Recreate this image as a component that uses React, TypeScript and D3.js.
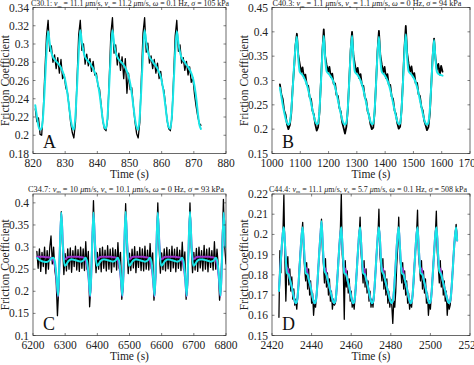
import React from 'react';
import * as d3 from 'd3';

const FONT = '"Liberation Serif", "Times New Roman", serif';
const AXIS = '#2b2b2b';
const CYAN = '#19e6e8';
const MAGENTA = '#9a30c8';
const BLACK = '#000000';

// ---- Panel A (C30.1) ----
const A_X_TICKS = [820, 830, 840, 850, 860, 870, 880];
const A_Y_TICKS = [0.18, 0.2, 0.22, 0.24, 0.26, 0.28, 0.3, 0.32, 0.34];
const A_TITLE = ['C30.1', '11.1', '11.2', '0.1', '105'];
const A_T0 = 820.7;
const A_DT = 0.5;
const A_BLACK = [
  0.229, 0.215, 0.219, 0.201, 0.200, 0.228, 0.270, 0.309,
  0.326, 0.292, 0.298, 0.280, 0.288, 0.273, 0.285, 0.268, 0.283, 0.262, 0.266, 0.252, 0.247, 0.232, 0.214, 0.203, 0.197, 0.214, 0.262, 0.310,
  0.326, 0.293, 0.300, 0.278, 0.289, 0.276, 0.284, 0.270, 0.281, 0.266, 0.268, 0.254, 0.250, 0.233, 0.216, 0.207, 0.205, 0.218, 0.262, 0.311,
  0.329, 0.290, 0.299, 0.277, 0.290, 0.271, 0.286, 0.262, 0.284, 0.246, 0.268, 0.250, 0.252, 0.232, 0.215, 0.202, 0.197, 0.214, 0.264, 0.312,
  0.329, 0.291, 0.301, 0.279, 0.287, 0.273, 0.283, 0.268, 0.279, 0.262, 0.270, 0.255, 0.249, 0.233, 0.216, 0.207, 0.205, 0.220, 0.263, 0.309,
  0.326, 0.292, 0.299, 0.279, 0.285, 0.271, 0.281, 0.266, 0.275, 0.258, 0.263, 0.245, 0.232, 0.221, 0.213, 0.211,
];
const A_CYAN = [
  0.233, 0.221, 0.210, 0.206, 0.208, 0.224, 0.256, 0.291,
  0.314, 0.301, 0.291, 0.286, 0.283, 0.281, 0.279, 0.277, 0.274, 0.270, 0.265, 0.257, 0.246, 0.232, 0.218, 0.209, 0.206, 0.222, 0.254, 0.290,
  0.315, 0.302, 0.292, 0.286, 0.283, 0.281, 0.279, 0.276, 0.273, 0.269, 0.264, 0.256, 0.245, 0.231, 0.217, 0.209, 0.207, 0.222, 0.255, 0.291,
  0.315, 0.301, 0.291, 0.286, 0.283, 0.281, 0.279, 0.277, 0.274, 0.270, 0.265, 0.257, 0.246, 0.232, 0.218, 0.209, 0.206, 0.221, 0.253, 0.290,
  0.315, 0.302, 0.292, 0.286, 0.283, 0.281, 0.278, 0.276, 0.273, 0.269, 0.264, 0.256, 0.245, 0.231, 0.217, 0.209, 0.207, 0.222, 0.255, 0.291,
  0.314, 0.301, 0.291, 0.285, 0.282, 0.280, 0.277, 0.275, 0.272, 0.268, 0.263, 0.254, 0.242, 0.226, 0.212, 0.207,
];

// ---- Panel B (C40.3) ----
const B_X_TICKS = [1000, 1100, 1200, 1300, 1400, 1500, 1600, 1700];
const B_Y_TICKS = [0.15, 0.2, 0.25, 0.3, 0.35, 0.4, 0.45];
const B_TITLE = ['C40.3', '1.1', '1.1', '0', '94'];
const B_T0 = 1028;
const B_DT = 5;
const B_BLACK = [
  0.292, 0.272, 0.262, 0.238, 0.230, 0.210, 0.200, 0.208, 0.232, 0.285, 0.325, 0.372, 0.396,
  0.352, 0.334, 0.317, 0.327, 0.306, 0.312, 0.291, 0.289, 0.266, 0.262, 0.238, 0.230, 0.210, 0.197, 0.204, 0.236, 0.298, 0.360, 0.405,
  0.350, 0.332, 0.318, 0.328, 0.307, 0.314, 0.293, 0.294, 0.270, 0.268, 0.244, 0.236, 0.214, 0.203, 0.191, 0.205, 0.240, 0.300, 0.362, 0.400,
  0.351, 0.333, 0.316, 0.326, 0.305, 0.313, 0.290, 0.289, 0.266, 0.260, 0.237, 0.229, 0.210, 0.200, 0.203, 0.236, 0.297, 0.360, 0.402,
  0.352, 0.333, 0.317, 0.328, 0.305, 0.313, 0.291, 0.291, 0.267, 0.262, 0.239, 0.231, 0.212, 0.201, 0.205, 0.240, 0.300, 0.364, 0.412,
  0.355, 0.334, 0.318, 0.329, 0.308, 0.315, 0.294, 0.295, 0.272, 0.268, 0.246, 0.238, 0.218, 0.208, 0.198, 0.204, 0.232, 0.290, 0.350, 0.386,
  0.345, 0.322, 0.334, 0.312, 0.330, 0.318,
];
const B_CYAN = [
  0.285, 0.268, 0.250, 0.235, 0.222, 0.213, 0.209, 0.214, 0.238, 0.280, 0.330, 0.368, 0.390,
  0.345, 0.318, 0.314, 0.311, 0.306, 0.300, 0.292, 0.281, 0.268, 0.254, 0.240, 0.227, 0.216, 0.210, 0.212, 0.240, 0.295, 0.355, 0.392,
  0.346, 0.319, 0.315, 0.312, 0.308, 0.303, 0.296, 0.286, 0.274, 0.260, 0.246, 0.232, 0.220, 0.212, 0.209, 0.214, 0.243, 0.298, 0.357, 0.392,
  0.345, 0.318, 0.314, 0.311, 0.306, 0.300, 0.292, 0.281, 0.268, 0.254, 0.240, 0.227, 0.216, 0.210, 0.212, 0.240, 0.295, 0.355, 0.390,
  0.345, 0.318, 0.314, 0.311, 0.306, 0.300, 0.292, 0.281, 0.268, 0.254, 0.240, 0.227, 0.216, 0.210, 0.212, 0.240, 0.295, 0.355, 0.395,
  0.346, 0.319, 0.315, 0.312, 0.308, 0.303, 0.296, 0.286, 0.274, 0.260, 0.246, 0.232, 0.220, 0.212, 0.209, 0.214, 0.240, 0.290, 0.345, 0.383,
  0.343, 0.318, 0.314, 0.312, 0.311, 0.310,
];

// ---- Panel C (C34.7) ----
const C_X_TICKS = [6200, 6300, 6400, 6500, 6600, 6700, 6800];
const C_Y_TICKS = [0.1, 0.15, 0.2, 0.25, 0.3, 0.35, 0.4];
const C_TITLE = ['C34.7', '10', '10.1', '0', '93'];
const C_BLACK_T0 = 6212;
const C_BLACK_DT = 4;
const C_BLACK = [
  0.290, 0.252, 0.296, 0.245, 0.288, 0.256, 0.300, 0.240, 0.292, 0.250, 0.298, 0.325, 0.262, 0.300, 0.248, 0.225, 0.145, 0.205, 0.300, 0.380,
  0.300, 0.238, 0.285, 0.246, 0.296, 0.250, 0.298, 0.243, 0.292, 0.256, 0.302, 0.248, 0.294, 0.245, 0.300, 0.252, 0.296, 0.247, 0.312, 0.250, 0.290, 0.165, 0.215, 0.300, 0.405,
  0.298, 0.242, 0.288, 0.250, 0.297, 0.244, 0.300, 0.252, 0.293, 0.246, 0.303, 0.250, 0.295, 0.243, 0.298, 0.255, 0.294, 0.248, 0.310, 0.252, 0.288, 0.182, 0.210, 0.298, 0.398,
  0.302, 0.240, 0.286, 0.247, 0.295, 0.253, 0.301, 0.242, 0.290, 0.254, 0.299, 0.247, 0.296, 0.246, 0.302, 0.250, 0.293, 0.248, 0.308, 0.251, 0.287, 0.180, 0.212, 0.300, 0.400,
  0.300, 0.241, 0.287, 0.249, 0.296, 0.246, 0.299, 0.251, 0.294, 0.245, 0.302, 0.253, 0.295, 0.244, 0.299, 0.252, 0.293, 0.247, 0.311, 0.250, 0.289, 0.182, 0.211, 0.299, 0.400,
  0.301, 0.242, 0.288, 0.248, 0.297, 0.245, 0.300, 0.253, 0.292, 0.246, 0.304, 0.250, 0.295, 0.244, 0.298, 0.254, 0.292, 0.248, 0.312, 0.250, 0.295, 0.258, 0.180, 0.212, 0.300, 0.408,
  0.300, 0.262,
];
const C_FIT_T0 = 6213;
const C_FIT_DT = 5;
const C_CYAN = [
  0.275, 0.272, 0.270, 0.268, 0.267, 0.266, 0.266, 0.268, 0.271, 0.275, 0.276, 0.268, 0.235, 0.190, 0.285, 0.378,
  0.300, 0.258, 0.260, 0.266, 0.270, 0.272, 0.272, 0.271, 0.270, 0.269, 0.268, 0.267, 0.268, 0.271, 0.276, 0.268, 0.235, 0.190, 0.285, 0.378,
  0.300, 0.258, 0.260, 0.266, 0.270, 0.272, 0.272, 0.271, 0.270, 0.269, 0.268, 0.267, 0.268, 0.271, 0.276, 0.268, 0.235, 0.190, 0.285, 0.380,
  0.300, 0.258, 0.260, 0.266, 0.270, 0.272, 0.272, 0.271, 0.270, 0.269, 0.268, 0.267, 0.268, 0.271, 0.276, 0.268, 0.235, 0.190, 0.285, 0.378,
  0.300, 0.258, 0.260, 0.266, 0.270, 0.272, 0.272, 0.271, 0.270, 0.269, 0.268, 0.267, 0.268, 0.271, 0.276, 0.268, 0.235, 0.190, 0.285, 0.380,
  0.300, 0.258, 0.260, 0.266, 0.270, 0.272, 0.272, 0.272, 0.271, 0.270, 0.269, 0.268, 0.267, 0.268, 0.271, 0.276, 0.268, 0.235, 0.190, 0.285, 0.378,
  0.300,
];
const C_MAGENTA = [
  0.278, 0.278, 0.278, 0.278, 0.278, 0.277, 0.277, 0.277, 0.276, 0.274, 0.270, 0.258, 0.228, 0.188, 0.283, 0.376,
  0.305, 0.272, 0.274, 0.277, 0.278, 0.278, 0.278, 0.278, 0.278, 0.278, 0.278, 0.277, 0.277, 0.276, 0.270, 0.258, 0.228, 0.188, 0.283, 0.376,
  0.305, 0.272, 0.274, 0.277, 0.278, 0.278, 0.278, 0.278, 0.278, 0.278, 0.278, 0.277, 0.277, 0.276, 0.270, 0.258, 0.228, 0.188, 0.283, 0.376,
  0.305, 0.272, 0.274, 0.277, 0.278, 0.278, 0.278, 0.278, 0.278, 0.278, 0.278, 0.277, 0.277, 0.276, 0.270, 0.258, 0.228, 0.188, 0.283, 0.376,
  0.305, 0.272, 0.274, 0.277, 0.278, 0.278, 0.278, 0.278, 0.278, 0.278, 0.278, 0.277, 0.277, 0.276, 0.270, 0.258, 0.228, 0.188, 0.283, 0.376,
  0.305, 0.272, 0.274, 0.277, 0.278, 0.278, 0.278, 0.278, 0.278, 0.278, 0.278, 0.278, 0.277, 0.277, 0.276, 0.270, 0.258, 0.228, 0.188, 0.283, 0.376,
  0.305,
];

// ---- Panel D (C44.4) ----
const D_X_TICKS = [2420, 2440, 2460, 2480, 2500, 2520];
const D_Y_TICKS = [0.15, 0.16, 0.17, 0.18, 0.19, 0.2, 0.21, 0.22];
const D_TITLE = ['C44.4', '11.1', '5.7', '0.1', '508'];
const D_T0 = 2423.5;
const D_DT = 0.5;
const D_BLACK = [
  0.159, 0.192, 0.181, 0.196, 0.200, 0.2195,
  0.188, 0.167, 0.184, 0.189, 0.175, 0.183, 0.172, 0.179, 0.168, 0.173, 0.165, 0.168, 0.163, 0.170, 0.176, 0.187, 0.193, 0.199, 0.206,
  0.191, 0.183, 0.177, 0.186, 0.173, 0.183, 0.170, 0.177, 0.166, 0.171, 0.160, 0.167, 0.164, 0.170, 0.176, 0.185, 0.193, 0.200, 0.2075,
  0.192, 0.185, 0.176, 0.188, 0.174, 0.181, 0.170, 0.178, 0.167, 0.172, 0.163, 0.168, 0.165, 0.166, 0.171, 0.178, 0.187, 0.194, 0.201, 0.220,
  0.190, 0.183, 0.158, 0.187, 0.174, 0.182, 0.171, 0.178, 0.167, 0.172, 0.164, 0.167, 0.163, 0.170, 0.177, 0.186, 0.193, 0.199, 0.2085,
  0.191, 0.184, 0.176, 0.187, 0.174, 0.183, 0.171, 0.177, 0.167, 0.172, 0.164, 0.168, 0.164, 0.170, 0.176, 0.186, 0.193, 0.199, 0.2125,
  0.190, 0.184, 0.177, 0.188, 0.173, 0.182, 0.170, 0.178, 0.166, 0.172, 0.164, 0.168, 0.165, 0.156, 0.167, 0.164, 0.172, 0.185, 0.194, 0.2085,
  0.191, 0.184, 0.176, 0.186, 0.173, 0.182, 0.170, 0.177, 0.166, 0.171, 0.163, 0.167, 0.164, 0.170, 0.176, 0.186, 0.193, 0.200, 0.212,
  0.190, 0.184, 0.177, 0.187, 0.173, 0.182, 0.171, 0.178, 0.166, 0.171, 0.160, 0.167, 0.163, 0.170, 0.177, 0.186, 0.193, 0.200, 0.2115,
  0.191, 0.184, 0.176, 0.187, 0.174, 0.182, 0.170, 0.177, 0.167, 0.172, 0.160, 0.167, 0.163, 0.165, 0.171, 0.178, 0.187, 0.194, 0.200, 0.205,
  0.198,
];
const D_CYAN = [
  0.172, 0.180, 0.188, 0.195, 0.201, 0.2035,
  0.196, 0.187, 0.181, 0.1805, 0.180, 0.178, 0.176, 0.174, 0.1715, 0.169, 0.167, 0.166, 0.1665, 0.170, 0.177, 0.185, 0.193, 0.200, 0.2035,
  0.196, 0.187, 0.181, 0.1805, 0.180, 0.178, 0.176, 0.174, 0.1715, 0.169, 0.167, 0.166, 0.1665, 0.170, 0.177, 0.185, 0.193, 0.200, 0.2065,
  0.198, 0.188, 0.182, 0.181, 0.180, 0.178, 0.176, 0.174, 0.172, 0.170, 0.168, 0.1665, 0.166, 0.167, 0.171, 0.178, 0.186, 0.194, 0.200, 0.2035,
  0.196, 0.187, 0.181, 0.1805, 0.180, 0.178, 0.176, 0.174, 0.1715, 0.169, 0.167, 0.166, 0.1665, 0.170, 0.177, 0.185, 0.193, 0.200, 0.2035,
  0.196, 0.187, 0.181, 0.1805, 0.180, 0.178, 0.176, 0.174, 0.1715, 0.169, 0.167, 0.166, 0.1665, 0.170, 0.177, 0.185, 0.193, 0.200, 0.2035,
  0.198, 0.188, 0.182, 0.181, 0.180, 0.178, 0.176, 0.174, 0.172, 0.170, 0.168, 0.1665, 0.166, 0.167, 0.171, 0.178, 0.186, 0.194, 0.200, 0.2035,
  0.196, 0.187, 0.181, 0.1805, 0.180, 0.178, 0.176, 0.174, 0.1715, 0.169, 0.167, 0.166, 0.1665, 0.170, 0.177, 0.185, 0.193, 0.200, 0.2035,
  0.196, 0.187, 0.181, 0.1805, 0.180, 0.178, 0.176, 0.174, 0.1715, 0.169, 0.167, 0.166, 0.1665, 0.170, 0.177, 0.185, 0.193, 0.200, 0.2035,
  0.198, 0.188, 0.182, 0.181, 0.180, 0.178, 0.176, 0.174, 0.172, 0.170, 0.168, 0.1665, 0.166, 0.167, 0.171, 0.178, 0.186, 0.194, 0.200, 0.2035,
  0.197,
];
const D_MAGENTA = [
  0.172, 0.180, 0.188, 0.195, 0.201, 0.203,
  0.196, 0.187, 0.1835, 0.183, 0.1805, 0.178, 0.176, 0.174, 0.1715, 0.169, 0.167, 0.166, 0.1665, 0.170, 0.177, 0.185, 0.193, 0.200, 0.203,
  0.196, 0.187, 0.1835, 0.183, 0.1805, 0.178, 0.176, 0.174, 0.1715, 0.169, 0.167, 0.166, 0.1665, 0.170, 0.177, 0.185, 0.193, 0.200, 0.206,
  0.198, 0.188, 0.1835, 0.183, 0.1805, 0.178, 0.176, 0.174, 0.172, 0.170, 0.168, 0.1665, 0.166, 0.167, 0.171, 0.178, 0.186, 0.194, 0.200, 0.203,
  0.196, 0.187, 0.1835, 0.183, 0.1805, 0.178, 0.176, 0.174, 0.1715, 0.169, 0.167, 0.166, 0.1665, 0.170, 0.177, 0.185, 0.193, 0.200, 0.203,
  0.196, 0.187, 0.1835, 0.183, 0.1805, 0.178, 0.176, 0.174, 0.1715, 0.169, 0.167, 0.166, 0.1665, 0.170, 0.177, 0.185, 0.193, 0.200, 0.203,
  0.198, 0.188, 0.1835, 0.183, 0.1805, 0.178, 0.176, 0.174, 0.172, 0.170, 0.168, 0.1665, 0.166, 0.167, 0.171, 0.178, 0.186, 0.194, 0.200, 0.203,
  0.196, 0.187, 0.1835, 0.183, 0.1805, 0.178, 0.176, 0.174, 0.1715, 0.169, 0.167, 0.166, 0.1665, 0.170, 0.177, 0.185, 0.193, 0.200, 0.203,
  0.196, 0.187, 0.1835, 0.183, 0.1805, 0.178, 0.176, 0.174, 0.1715, 0.169, 0.167, 0.166, 0.1665, 0.170, 0.177, 0.185, 0.193, 0.200, 0.203,
  0.198, 0.188, 0.1835, 0.183, 0.1805, 0.178, 0.176, 0.174, 0.172, 0.170, 0.168, 0.1665, 0.166, 0.167, 0.171, 0.178, 0.186, 0.194, 0.200, 0.203,
  0.197,
];

interface Box { x0: number; x1: number; y0: number; y1: number }
interface Series { t0: number; dt: number; values: number[]; color: string; width: number; smooth: boolean }
interface PanelProps {
  id: string;
  box: Box;
  xTicks: number[];
  yTicks: number[];
  yDomain: [number, number];
  series: Series[];
  title: string[];
  titleX: number;
  titleLen: number;
  letter: string;
}

const fmt = d3.format('~g');
const TICK = 2.5;
const TICK_FONT = 11.5;
const LABEL_FONT = 11.5;

function Title({ x, y, len, parts }: { x: number; y: number; len: number; parts: string[] }) {
  const [run, vm, vs, w, sig] = parts;
  return (
    <text x={x} y={y} textAnchor="middle" fontSize={7.5} textLength={len} lengthAdjust="spacingAndGlyphs" fill="#222">
      {run + ': '}
      <tspan fontStyle="italic">v</tspan>
      <tspan fontSize={5} dy={1.5}>m</tspan>
      <tspan dy={-1.5}>{' = ' + vm + ' '}</tspan>
      <tspan fontStyle="italic">μ</tspan>
      {'m/s, '}
      <tspan fontStyle="italic">v</tspan>
      <tspan fontSize={5} dy={1.5}>s</tspan>
      <tspan dy={-1.5}>{' = ' + vs + ' '}</tspan>
      <tspan fontStyle="italic">μ</tspan>
      {'m/s, '}
      <tspan fontStyle="italic">ω</tspan>
      {' = ' + w + ' Hz, '}
      <tspan fontStyle="italic">σ</tspan>
      {' = ' + sig + ' kPa'}
    </text>
  );
}

function Panel({ id, box, xTicks, yTicks, yDomain, series, title, titleX, titleLen, letter }: PanelProps) {
  const x = d3.scaleLinear().domain([xTicks[0], xTicks[xTicks.length - 1]]).range([box.x0, box.x1]);
  const y = d3.scaleLinear().domain(yDomain).range([box.y1, box.y0]);
  const midY = (box.y0 + box.y1) / 2;
  const midX = (box.x0 + box.x1) / 2;

  return (
    <g>
      <defs>
        <clipPath id={`clip-${id}`}>
          <rect x={box.x0} y={box.y0} width={box.x1 - box.x0} height={box.y1 - box.y0} />
        </clipPath>
      </defs>
      <g clipPath={`url(#clip-${id})`}>
        {series.map((s, k) => {
          const line = d3.line<number>()
            .x((_, i) => x(s.t0 + i * s.dt))
            .y(v => y(v))
            .curve(s.smooth ? d3.curveMonotoneX : d3.curveLinear);
          return (
            <path key={k} d={line(s.values) || ''} fill="none" stroke={s.color}
              strokeWidth={s.width} strokeLinejoin="round" strokeLinecap="round" />
          );
        })}
      </g>
      <rect x={box.x0} y={box.y0} width={box.x1 - box.x0} height={box.y1 - box.y0}
        fill="none" stroke={AXIS} strokeWidth={0.7} />
      {xTicks.map(t => (
        <g key={`x${t}`}>
          <line x1={x(t)} x2={x(t)} y1={box.y1} y2={box.y1 - TICK} stroke={AXIS} strokeWidth={0.6} />
          <line x1={x(t)} x2={x(t)} y1={box.y0} y2={box.y0 + TICK} stroke={AXIS} strokeWidth={0.6} />
          <text x={x(t)} y={box.y1 + 13} textAnchor="middle" fontSize={TICK_FONT} fill="#222">{fmt(t)}</text>
        </g>
      ))}
      {yTicks.map(v => (
        <g key={`y${v}`}>
          <line x1={box.x0} x2={box.x0 + TICK} y1={y(v)} y2={y(v)} stroke={AXIS} strokeWidth={0.6} />
          <line x1={box.x1} x2={box.x1 - TICK} y1={y(v)} y2={y(v)} stroke={AXIS} strokeWidth={0.6} />
          <text x={box.x0 - 4} y={y(v) + 4} textAnchor="end" fontSize={TICK_FONT} fill="#222">{fmt(v)}</text>
        </g>
      ))}
      <text x={midX} y={box.y1 + 24.5} textAnchor="middle" fontSize={LABEL_FONT} fill="#222">Time (s)</text>
      <text transform={`translate(${box.x0 - 24.5},${midY}) rotate(-90)`} textAnchor="middle" fontSize={LABEL_FONT} fill="#222">
        Friction Coefficient
      </text>
      <text x={box.x0 + 10} y={box.y1 - 5.5} fontSize={18} fill="#111">{letter}</text>
      <Title x={titleX} y={Math.max(box.y0 - 2.5, 6)} len={titleLen} parts={title} />
    </g>
  );
}

const PANELS: PanelProps[] = [
  {
    id: 'A', letter: 'A', title: A_TITLE, titleX: 130, titleLen: 198,
    box: { x0: 33, x1: 226, y0: 7.5, y1: 153.5 },
    xTicks: A_X_TICKS, yTicks: A_Y_TICKS, yDomain: [0.18, 0.34],
    series: [
      { t0: A_T0, dt: A_DT, values: A_BLACK, color: BLACK, width: 1.3, smooth: false },
      { t0: A_T0, dt: A_DT, values: A_CYAN, color: CYAN, width: 2, smooth: true },
    ],
  },
  {
    id: 'B', letter: 'B', title: B_TITLE, titleX: 367, titleLen: 189,
    box: { x0: 272, x1: 470, y0: 7.5, y1: 153.5 },
    xTicks: B_X_TICKS, yTicks: B_Y_TICKS, yDomain: [0.15, 0.45],
    series: [
      { t0: B_T0, dt: B_DT, values: B_BLACK, color: BLACK, width: 1.8, smooth: false },
      { t0: B_T0, dt: B_DT, values: B_CYAN, color: CYAN, width: 2, smooth: true },
    ],
  },
  {
    id: 'C', letter: 'C', title: C_TITLE, titleX: 126, titleLen: 196,
    box: { x0: 33, x1: 226, y0: 194, y1: 335.5 },
    xTicks: C_X_TICKS, yTicks: C_Y_TICKS, yDomain: [0.1, 0.42],
    series: [
      { t0: C_BLACK_T0, dt: C_BLACK_DT, values: C_BLACK, color: BLACK, width: 1.3, smooth: false },
      { t0: C_FIT_T0, dt: C_FIT_DT, values: C_MAGENTA, color: MAGENTA, width: 2, smooth: true },
      { t0: C_FIT_T0, dt: C_FIT_DT, values: C_CYAN, color: CYAN, width: 2, smooth: true },
    ],
  },
  {
    id: 'D', letter: 'D', title: D_TITLE, titleX: 368, titleLen: 198,
    box: { x0: 272, x1: 470, y0: 194, y1: 335.5 },
    xTicks: D_X_TICKS, yTicks: D_Y_TICKS, yDomain: [0.15, 0.22],
    series: [
      { t0: D_T0, dt: D_DT, values: D_BLACK, color: BLACK, width: 1.3, smooth: false },
      { t0: D_T0, dt: D_DT, values: D_MAGENTA, color: MAGENTA, width: 2, smooth: true },
      { t0: D_T0, dt: D_DT, values: D_CYAN, color: CYAN, width: 2, smooth: true },
    ],
  },
];

export default function App() {
  return (
    <svg width={474} height={365} viewBox="0 0 474 365" fontFamily={FONT}
      style={{ position: 'absolute', left: 0, top: 0, background: '#fff' }}>
      <rect x={0} y={0} width={474} height={365} fill="#fff" />
      {PANELS.map(p => <Panel key={p.id} {...p} />)}
    </svg>
  );
}
